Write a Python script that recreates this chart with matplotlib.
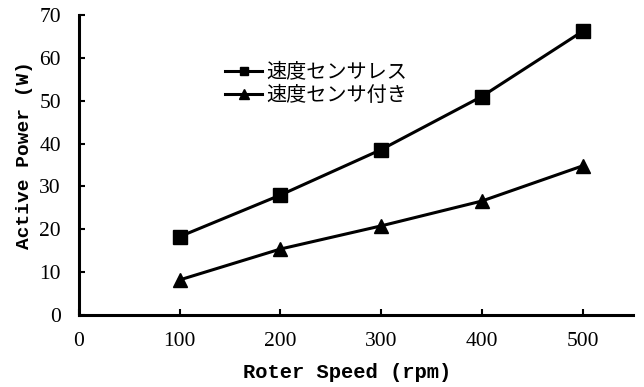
import matplotlib
matplotlib.use("Agg")
import matplotlib.pyplot as plt

# rotor speed and measured active power
speed = [100, 200, 300, 400, 500]
power_sensorless = [18.3, 28.0, 38.6, 51.0, 66.2]
power_sensor = [8.2, 15.4, 20.8, 26.6, 34.8]
labels = ["速度センサレス", "速度センサ付き"]

xticks = [0, 100, 200, 300, 400, 500]
yticks = [0, 10, 20, 30, 40, 50, 60, 70]

fig = plt.figure(figsize=(6.44, 3.87), dpi=100)
ax = fig.add_axes([0.1227, 0.186, 0.86, 0.775])

ax.plot(speed, power_sensorless, '-', color='black', lw=2.2,
        marker='s', ms=9.5, label=labels[0])
ax.plot(speed, power_sensor, '-', color='black', lw=2.2,
        marker='^', ms=10.5, label=labels[1])

ax.set_xlim(0, 550)
ax.set_ylim(0, 70)
ax.set_xticks(xticks)
ax.set_yticks(yticks)
for s in ['top', 'right']:
    ax.spines[s].set_visible(False)
for s in ['left', 'bottom']:
    ax.spines[s].set_linewidth(2.2)
ax.tick_params(direction='in', length=4, width=1.5, labelsize=15.5)
ax.tick_params(axis='x', pad=12)
ax.tick_params(axis='y', pad=13)
for t in ax.get_xticklabels() + ax.get_yticklabels():
    t.set_family('Liberation Serif')

ax.set_xlabel("Roter Speed (rpm)", family='Liberation Mono', fontweight='bold',
              fontsize=14.8)
ax.set_ylabel("Active Power (W)", family='Liberation Mono', fontweight='bold',
              fontsize=14)
ax.xaxis.set_label_coords(0.484, -0.16)
ax.yaxis.set_label_coords(-0.083, 0.533)

leg = ax.legend(loc='upper left', bbox_to_anchor=(0.264, 0.845), frameon=False,
                borderpad=0, borderaxespad=0, handlelength=1.85,
                handletextpad=0.2, labelspacing=0.1, markerscale=0.65,
                prop={'family': ['Noto Sans CJK JP'], 'size': 14.5})

fig.savefig("out.png", dpi=100)
